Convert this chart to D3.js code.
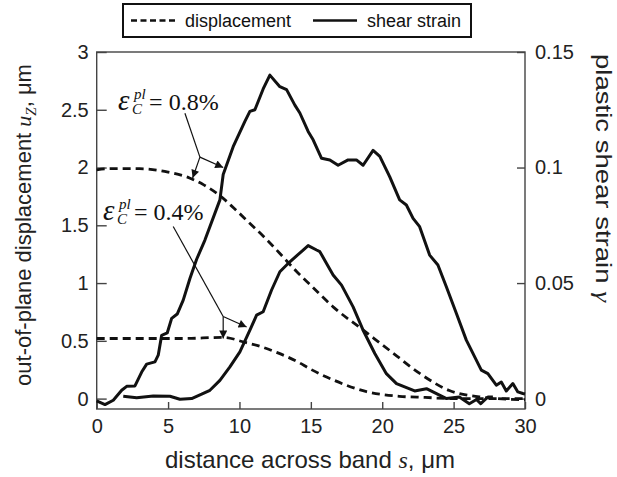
<!DOCTYPE html>
<html>
<head>
<meta charset="utf-8">
<script src="https://cdn.jsdelivr.net/npm/d3@7"></script>
<style>
  body { margin: 0; background: #fff; }
  svg { display: block; }
  .tick-label { font-family: "Liberation Sans", Arial, sans-serif; font-size: 20px; fill: #222; }
  .title { font-family: "Liberation Sans", Arial, sans-serif; font-size: 22px; fill: #222; }
  .legend-text { font-family: "Liberation Sans", Arial, sans-serif; font-size: 18px; fill: #111; }
  .note { font-family: "Liberation Serif", "Times New Roman", serif; fill: #111; }
</style>
</head>
<body>
<div id="chart"></div>
<script>
// tick values
const xTicks = [0, 5, 10, 15, 20, 25, 30];
const leftTicks = [0, 0.5, 1, 1.5, 2, 2.5, 3];
const rightTicks = [0, 0.05, 0.1, 0.15];
const legendLabels = ['displacement', 'shear strain'];

// out-of-plane displacement u_Z (um) vs s (um)
const dispHigh = [[0, 1.98], [1, 1.99], [3, 1.99], [5, 1.96], [6.5, 1.91], [7.5, 1.85],
  [8.6, 1.76], [9.6, 1.65], [10.7, 1.52], [11.8, 1.39], [12.8, 1.26], [14, 1.1],
  [15, 0.98], [16.6, 0.79], [18.7, 0.59], [20.8, 0.39], [22.6, 0.22], [24.7, 0.07],
  [26.8, 0.015], [28, 0.0], [30, -0.01]];
const dispLow = [[0, 0.52], [3, 0.52], [6, 0.52], [8.9, 0.53], [10.3, 0.49], [11.5, 0.45],
  [12.6, 0.4], [14.2, 0.31], [14.9, 0.26], [16.6, 0.16], [18.9, 0.06], [21.2, 0.02],
  [23, 0.01], [25, 0.0], [30, 0.0]];

// plastic shear strain gamma vs s (um)
const strainHigh = [[0, -0.001], [0.58, -0.0026], [1.16, -0.0007], [1.75, 0.0036], [2.1, 0.0053],
  [2.68, 0.0055], [3.15, 0.0115], [3.5, 0.0149], [4.08, 0.0159], [4.31, 0.0188], [4.55, 0.0274],
  [4.94, 0.0284], [5.25, 0.0347], [5.64, 0.0366], [6.06, 0.0426], [6.53, 0.052], [7.0, 0.0603],
  [7.58, 0.0686], [8.63, 0.086], [8.86, 0.097], [9.56, 0.109], [10.38, 0.12], [10.73, 0.1243],
  [11.08, 0.125], [11.66, 0.134], [12.13, 0.14], [12.83, 0.135], [13.3, 0.1337], [13.88, 0.127],
  [14.23, 0.1236], [14.81, 0.1156], [15.16, 0.112], [15.75, 0.104], [16.33, 0.1033], [16.91, 0.101],
  [17.61, 0.1033], [18.19, 0.1033], [18.66, 0.101], [19.36, 0.1074], [19.83, 0.1048], [20.52, 0.0961],
  [21.22, 0.086], [21.69, 0.0838], [22.16, 0.078], [22.62, 0.0744], [23.32, 0.0621], [23.9, 0.0578],
  [24.49, 0.0484], [25.19, 0.0369], [25.89, 0.0253], [26.94, 0.0123], [27.4, 0.0108], [27.99, 0.0058],
  [28.34, 0.0072], [28.69, 0.0033], [29.15, 0.0065], [29.5, 0.0029], [29.85, 0.0022], [30, 0.002]];
const strainLow = [[1.86, 0.001], [2.8, 0.0004], [3.96, 0.0011], [5.13, 0.001], [5.83, -0.0003],
  [6.65, 0.0], [7.35, 0.0019], [7.93, 0.0036], [8.63, 0.0079], [9.33, 0.0137], [10.03, 0.0202],
  [10.73, 0.0296], [11.2, 0.0361], [11.66, 0.0376], [12.25, 0.047], [12.83, 0.0549], [13.53, 0.0592],
  [14.46, 0.0643], [14.81, 0.0662], [15.4, 0.0643], [15.63, 0.0636], [16.1, 0.0585], [16.56, 0.0535],
  [17.15, 0.0491], [17.96, 0.0397], [18.66, 0.0296], [19.48, 0.0195], [20.29, 0.0108], [21.0, 0.0065],
  [22.27, 0.0033], [23.1, 0.0043], [24.5, 0.0], [25.4, 0.0007], [26.1, -0.0022], [26.6, -0.0004],
  [26.9, -0.0022], [27.4, 0.0007], [27.75, 0.0007]];

// callouts, in data units of the left axis
const notes = [
  {value: '0.8%', at: [1.5, 2.5], line: [[6.18, 2.47], [7.23, 2.09]], tips: [[8.86, 2.0], [6.72, 1.91]]},
  {value: '0.4%', at: [0.44, 1.55], line: [[5.36, 1.49], [8.86, 0.71]], tips: [[8.86, 0.52], [10.5, 0.62]]}
];

const width = 617;
const height = 477;
const plot = {left: 96.7, right: 525, top: 52, bottom: 409};

let svg = d3.select('#chart').append('svg')
  .attr('width', width)
  .attr('height', height)

svg.append('defs').append('marker')
  .attr('id', 'head')
  .attr('viewBox', '0 0 10 10')
  .attr('refX', 10)
  .attr('refY', 5)
  .attr('markerWidth', 10)
  .attr('markerHeight', 8)
  .attr('markerUnits', 'userSpaceOnUse')
  .attr('orient', 'auto')
  .append('path')
    .attr('d', 'M0,0 L10,5 L0,10 Z')
    .attr('fill', '#111')

let x = d3.scaleLinear().domain([0, 30]).range([plot.left, plot.right]);
let yLeft = d3.scaleLinear().domain([-0.09, 3]).range([plot.bottom, plot.top]);
let yRight = d3.scaleLinear().domain([-0.0045, 0.15]).range([plot.bottom, plot.top]);

// frame
svg.append('rect')
  .attr('x', plot.left)
  .attr('y', plot.top)
  .attr('width', plot.right - plot.left)
  .attr('height', plot.bottom - plot.top)
  .attr('fill', 'none')
  .attr('stroke', '#444')
  .attr('stroke-width', 1.4)

let styleAxis = g => {
  g.attr('font-size', null).attr('font-family', null);
  g.select('.domain').remove();
  g.selectAll('.tick line').attr('stroke', '#444').attr('stroke-width', 1.4);
  g.selectAll('.tick text').attr('class', 'tick-label').attr('fill', null);
}

svg.append('g')
  .attr('transform', `translate(0, ${plot.bottom})`)
  .call(d3.axisBottom(x).tickValues(xTicks).tickSize(-7).tickPadding(10).tickFormat(d3.format('d')))
  .call(styleAxis)

svg.append('g')
  .attr('transform', `translate(${plot.left}, 0)`)
  .call(d3.axisLeft(yLeft).tickValues(leftTicks).tickSize(-10).tickPadding(8).tickFormat(d => String(d)))
  .call(styleAxis)

svg.append('g')
  .attr('transform', `translate(${plot.right}, 0)`)
  .call(d3.axisRight(yRight).tickValues(rightTicks).tickSize(-8).tickPadding(10).tickFormat(d => String(d)))
  .call(styleAxis)

// axis titles
let xTitle = svg.append('text')
  .classed('title', true)
  .attr('x', 310)
  .attr('y', 468)
  .style('font-size', '24px')
  .attr('text-anchor', 'middle')
xTitle.append('tspan').text('distance across band ')
xTitle.append('tspan').attr('font-family', '"Liberation Serif", serif').attr('font-style', 'italic').text('s')
xTitle.append('tspan').text(', μm')

let yTitle = svg.append('text')
  .classed('title', true)
  .attr('transform', 'translate(31, 225) rotate(-90)')
  .attr('text-anchor', 'middle')
yTitle.append('tspan').text('out-of-plane displacement ')
yTitle.append('tspan').attr('font-family', '"Liberation Serif", serif').attr('font-style', 'italic').text('u')
yTitle.append('tspan').attr('font-family', '"Liberation Serif", serif').attr('font-style', 'italic')
  .style('font-size', '15px').attr('dy', 5).text('Z')
yTitle.append('tspan').attr('dy', -5).text(', μm')

let rTitle = svg.append('text')
  .classed('title', true)
  .attr('transform', 'translate(596, 178) rotate(90)')
  .attr('text-anchor', 'middle')
  .attr('textLength', 248)
  .attr('lengthAdjust', 'spacingAndGlyphs')
rTitle.append('tspan').text('plastic shear strain ')
rTitle.append('tspan').attr('font-family', '"Liberation Serif", serif').attr('font-style', 'italic').text('γ')

// curves
let leftLine = d3.line().x(d => x(d[0])).y(d => yLeft(d[1])).curve(d3.curveMonotoneX);
let rightLine = d3.line().x(d => x(d[0])).y(d => yRight(d[1]));

let content = svg.append('g');

content.selectAll('path.disp')
  .data([dispHigh, dispLow])
  .enter().append('path')
    .classed('disp', true)
    .attr('d', leftLine)
    .attr('fill', 'none')
    .attr('stroke', '#111')
    .attr('stroke-width', 2.8)
    .attr('stroke-dasharray', '8,5')

content.selectAll('path.strain')
  .data([strainHigh, strainLow])
  .enter().append('path')
    .classed('strain', true)
    .attr('d', rightLine)
    .attr('fill', 'none')
    .attr('stroke', '#111')
    .attr('stroke-width', 3)
    .attr('stroke-linejoin', 'round')

// callouts
notes.forEach(n => {
  let px = x(n.at[0]);
  let py = yLeft(n.at[1]);
  let g = svg.append('g').classed('note', true);
  g.append('text').attr('x', px).attr('y', py).attr('font-size', 29).attr('font-style', 'italic').text('ε');
  g.append('text').attr('x', px + 16).attr('y', py - 11).attr('font-size', 15).attr('font-style', 'italic').text('pl');
  g.append('text').attr('x', px + 14).attr('y', py + 4).attr('font-size', 15).attr('font-style', 'italic').text('C');
  g.append('text').attr('x', px + 31).attr('y', py).attr('font-size', 24).text('= ' + n.value);

  g.append('path')
    .attr('d', d3.line()(n.line.map(p => [x(p[0]), yLeft(p[1])])))
    .attr('fill', 'none')
    .attr('stroke', '#111')
    .attr('stroke-width', 1.2)
  n.tips.forEach(t => {
    g.append('line')
      .attr('x1', x(n.line[1][0]))
      .attr('y1', yLeft(n.line[1][1]))
      .attr('x2', x(t[0]))
      .attr('y2', yLeft(t[1]))
      .attr('stroke', '#111')
      .attr('stroke-width', 1.2)
      .attr('marker-end', 'url(#head)')
  })
})

// legend
let legend = svg.append('g').attr('transform', 'translate(123, 4)');
legend.append('rect')
  .attr('width', 348)
  .attr('height', 33)
  .attr('fill', '#fff')
  .attr('stroke', '#111')
  .attr('stroke-width', 2)

let items = legend.selectAll('g.item')
  .data(legendLabels)
  .enter().append('g')
    .classed('item', true)
    .attr('transform', (d, i) => `translate(${i === 0 ? 8 : 190}, 0)`)

items.append('line')
  .attr('x1', 0)
  .attr('x2', 44)
  .attr('y1', 16.5)
  .attr('y2', 16.5)
  .attr('stroke', '#111')
  .attr('stroke-width', 2.6)
  .attr('stroke-dasharray', (d, i) => i === 0 ? '6,3.5' : null)

items.append('text')
  .classed('legend-text', true)
  .attr('x', 54)
  .attr('y', 23)
  .text(d => d)
</script>
</body>
</html>
